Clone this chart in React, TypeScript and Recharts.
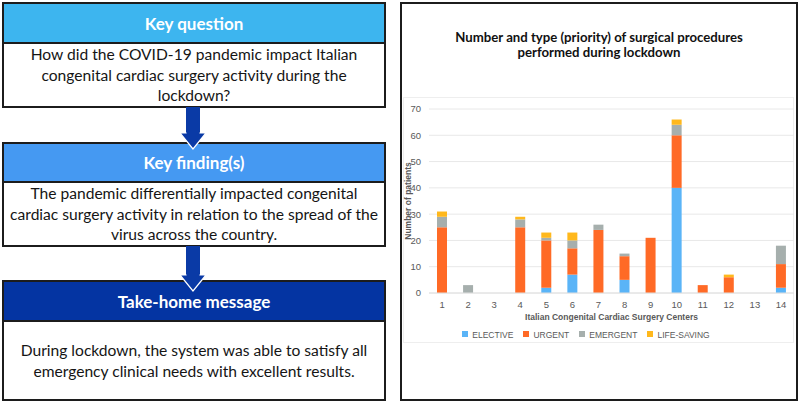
import React from 'react'
import { BarChart, Bar, XAxis, YAxis, CartesianGrid, Legend } from 'recharts'

const centers = ['1', '2', '3', '4', '5', '6', '7', '8', '9', '10', '11', '12', '13', '14']
const elective = [0, 0, 0, 0, 2, 7, 0, 5, 0, 40, 0, 0, 0, 2]
const urgent = [25, 0, 0, 25, 18, 10, 24, 9, 21, 20, 3, 6, 0, 9]
const emergent = [4, 3, 0, 3, 1, 3, 2, 1, 0, 4, 0, 0, 0, 7]
const lifeSaving = [2, 0, 0, 1, 2, 3, 0, 0, 0, 2, 0, 1, 0, 0]
const yTicks = [0, 10, 20, 30, 40, 50, 60, 70]
const seriesOrder = ['elective', 'urgent', 'emergent', 'lifeSaving']

const data = centers.map((c, i) => ({
  center: c,
  elective: elective[i],
  urgent: urgent[i],
  emergent: emergent[i],
  lifeSaving: lifeSaving[i],
}))

const questionLines = [
  'How did the COVID-19 pandemic impact Italian',
  'congenital cardiac surgery activity during the',
  'lockdown?',
]
const findingLines = [
  'The pandemic differentially impacted congenital',
  'cardiac surgery activity in relation to the spread of the',
  'virus across the country.',
]
const messageLines = [
  'During lockdown, the system was able to satisfy all',
  'emergency clinical needs with excellent results.',
]

const FONT = 'Lato, "Open Sans", sans-serif'
const AXIS_FONT = 'Liberation Sans, Arial'

function InfoBox({
  top,
  height,
  headerHeight,
  title,
  color,
  lines,
}: {
  top: number
  height: number
  headerHeight: number
  title: string
  color: string
  lines: string[]
}) {
  return (
    <div
      style={{
        position: 'absolute',
        left: 2,
        top,
        width: 384,
        height,
        border: '2px solid #1c1c1c',
        boxSizing: 'border-box',
        display: 'flex',
        flexDirection: 'column',
        fontFamily: FONT,
      }}
    >
      <div
        style={{
          height: headerHeight,
          background: color,
          borderBottom: '2px solid #1c1c1c',
          color: '#fff',
          fontWeight: 700,
          fontSize: 17,
          display: 'flex',
          alignItems: 'center',
          justifyContent: 'center',
        }}
      >
        {title}
      </div>
      <div
        style={{
          flex: 1,
          display: 'flex',
          flexDirection: 'column',
          alignItems: 'center',
          justifyContent: 'center',
          fontSize: 15.6,
          lineHeight: '20.5px',
          color: '#151515',
          whiteSpace: 'nowrap',
        }}
      >
        {lines.map((l) => (
          <div key={l}>{l}</div>
        ))}
      </div>
    </div>
  )
}

function Arrow({ top, shaft }: { top: number; shaft: number }) {
  return (
    <svg
      style={{ position: 'absolute', left: 176, top, zIndex: 2 }}
      width={36}
      height={shaft + 20}
    >
      <rect x={10} y={0} width={14} height={shaft + 1} fill="#0a3aa6" />
      <polygon
        points={`4,${shaft} 30,${shaft} 17,${shaft + 16}`}
        fill="#0a3aa6"
        stroke="#ffffff"
        strokeWidth={1.2}
      />
      <rect x={10.6} y={shaft - 1} width={12.8} height={3} fill="#0a3aa6" />
    </svg>
  )
}

export default function App() {
  return (
    <div
      style={{
        position: 'absolute',
        left: 0,
        top: 0,
        width: 800,
        height: 403,
        background: '#fff',
        overflow: 'hidden',
      }}
    >
      <InfoBox
        top={2}
        height={106}
        headerHeight={38}
        title="Key question"
        color="#3db5ef"
        lines={questionLines}
      />
      <Arrow top={107} shaft={26} />
      <InfoBox
        top={142}
        height={105}
        headerHeight={37}
        title="Key finding(s)"
        color="#4599f2"
        lines={findingLines}
      />
      <Arrow top={246} shaft={29} />
      <InfoBox
        top={280}
        height={121}
        headerHeight={38}
        title="Take-home message"
        color="#0434a2"
        lines={messageLines}
      />

      <div
        style={{
          position: 'absolute',
          left: 400,
          top: 2,
          width: 398,
          height: 399,
          border: '2px solid #1c1c1c',
          boxSizing: 'border-box',
        }}
      >
        <div
          style={{
            position: 'absolute',
            left: 0,
            top: 26,
            width: 394,
            textAlign: 'center',
            fontFamily: FONT,
            fontWeight: 700,
            fontSize: 13.2,
            lineHeight: '15px',
            color: '#111',
          }}
        >
          Number and type (priority) of surgical procedures
          <br />
          performed during lockdown
        </div>
        <div
          style={{
            position: 'absolute',
            left: 1,
            top: 93,
            width: 391,
            height: 246,
            border: '1px solid #eeeeee',
            boxSizing: 'border-box',
          }}
        />
        <div style={{ position: 'absolute', left: 0, top: 0 }}>
          <BarChart
            width={394}
            height={395}
            data={data}
            margin={{ top: 105, right: 2, left: 0, bottom: 76 }}
            barSize={10}
          >
            <CartesianGrid vertical={false} stroke="#e8e8e8" />
            <XAxis
              dataKey="center"
              height={30}
              tickLine={false}
              axisLine={{ stroke: '#e0e0e0' }}
              tick={{ fontSize: 9.5, fill: '#595959', fontFamily: AXIS_FONT }}
              interval={0}
              label={{
                value: 'Italian Congenital Cardiac Surgery Centers',
                position: 'insideBottom',
                offset: 3,
                style: {
                  fontSize: 8.5,
                  fontWeight: 700,
                  fill: '#595959',
                  fontFamily: AXIS_FONT,
                },
              }}
            />
            <YAxis
              width={27}
              domain={[0, 70]}
              ticks={yTicks}
              tickLine={false}
              axisLine={false}
              tick={{ fontSize: 9.5, fill: '#595959', fontFamily: AXIS_FONT }}
              label={{
                value: 'Number of patients',
                angle: -90,
                position: 'insideLeft',
                offset: 5.5,
                style: {
                  fontSize: 8.5,
                  fontWeight: 700,
                  fill: '#595959',
                  fontFamily: AXIS_FONT,
                  textAnchor: 'middle',
                },
              }}
            />
            <Legend
              verticalAlign="middle"
              align="center"
              layout="horizontal"
              iconType="square"
              iconSize={6}
              itemSorter={(item: any) => seriesOrder.indexOf(String(item.dataKey))}
              wrapperStyle={{ top: 320, left: -8, width: 394, fontFamily: AXIS_FONT }}
              formatter={(v) => (
                <span style={{ color: '#595959', fontSize: 8.5 }}>{v}</span>
              )}
            />
            <Bar dataKey="elective" name="ELECTIVE" stackId="a" fill="#5ab4f7" isAnimationActive={false} />
            <Bar dataKey="urgent" name="URGENT" stackId="a" fill="#ff6a26" isAnimationActive={false} />
            <Bar dataKey="emergent" name="EMERGENT" stackId="a" fill="#a6afad" isAnimationActive={false} />
            <Bar dataKey="lifeSaving" name="LIFE-SAVING" stackId="a" fill="#ffb81c" isAnimationActive={false} />
          </BarChart>
        </div>
      </div>
    </div>
  )
}
